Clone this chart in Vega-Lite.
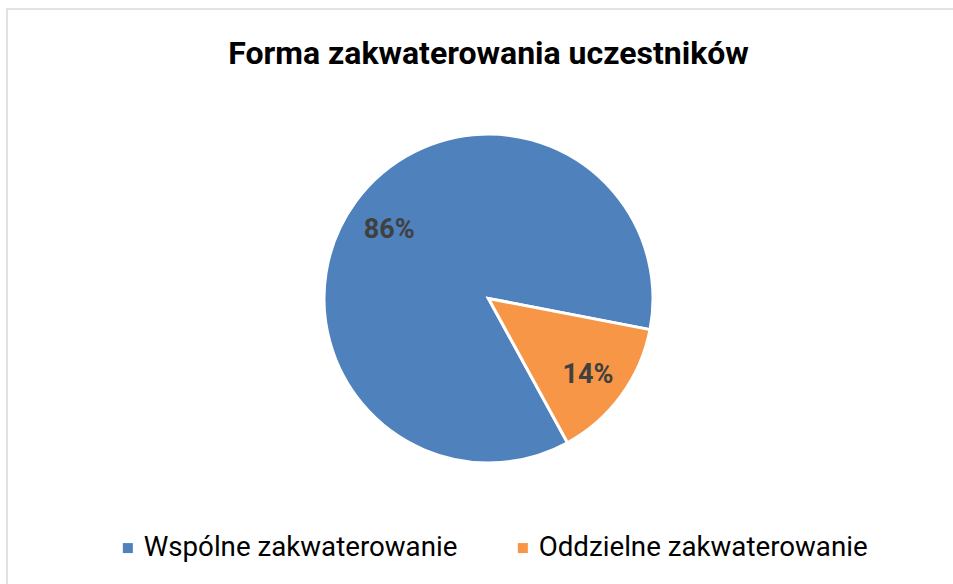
{
  "$schema": "https://vega.github.io/schema/vega-lite/v6.json",
  "autosize": {"type": "none"},
  "padding": {"left": 7, "top": 9, "right": 0, "bottom": 0},
  "width": 963,
  "height": 579,
  "background": "white",
  "view": {"stroke": "#d9d9d9", "strokeWidth": 1.5},
  "config": {
    "view": {"stroke": "#d9d9d9", "strokeWidth": 1.5},
    "font": "Roboto"
  },
  "title": {
    "text": "Forma zakwaterowania uczestników",
    "font": "Roboto",
    "fontSize": 32,
    "fontWeight": "bold",
    "color": "#000000",
    "anchor": "middle",
    "offset": -62
  },
  "data": {
    "values": [
      {"forma": "Wspólne zakwaterowanie", "udzial": 86, "etykieta": "86%", "kolejnosc": 1},
      {"forma": "Oddzielne zakwaterowanie", "udzial": 14, "etykieta": "14%", "kolejnosc": 2}
    ]
  },
  "encoding": {
    "theta": {"field": "udzial", "type": "quantitative", "stack": true, "scale": {"range": [2.6407, 8.9239]}},
    "order": {"field": "kolejnosc", "type": "quantitative"}
  },
  "layer": [
    {
      "mark": {"type": "arc", "outerRadius": 164.5, "stroke": "white", "strokeWidth": 3},
      "encoding": {
        "color": {
          "field": "forma",
          "type": "nominal",
          "scale": {"domain": ["Wspólne zakwaterowanie", "Oddzielne zakwaterowanie"], "range": ["#4F81BD", "#F79646"]},
          "legend": {
            "title": null,
            "orient": "none",
            "direction": "horizontal",
            "columns": 2,
            "legendX": 107,
            "legendY": 525,
            "symbolType": "square",
            "symbolSize": 100,
            "symbolStrokeWidth": 0,
            "labelFont": "Roboto",
            "labelFontSize": 27.7,
            "labelColor": "#000000",
            "labelOffset": 2,
            "columnPadding": 51,
            "labelLimit": 500
          }
        }
      }
    },
    {
      "mark": {"type": "text", "radius": 123, "font": "Roboto", "fontSize": 27, "fontWeight": "bold", "color": "#404040", "dy": 4},
      "encoding": {
        "text": {"field": "etykieta", "type": "nominal"}
      }
    }
  ]
}
